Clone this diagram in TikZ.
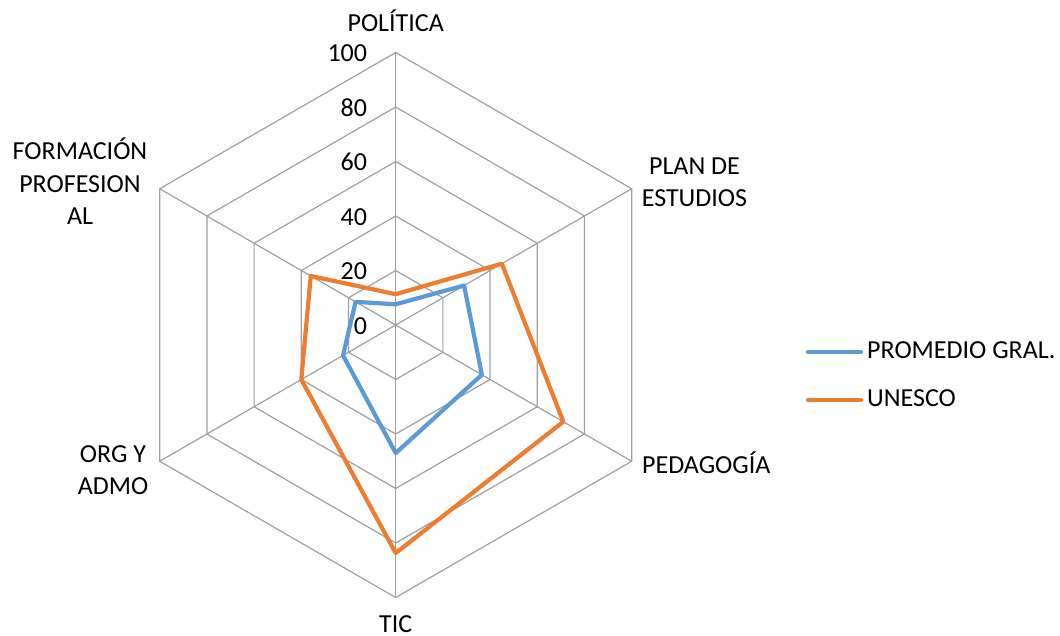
\documentclass[tikz,border=0pt]{standalone}
\usepackage{fontspec}
\setmainfont{Carlito}
\definecolor{gridc}{RGB}{160,160,160}
\definecolor{serblue}{RGB}{91,155,213}
\definecolor{serorange}{RGB}{237,125,49}
\begin{document}
\begin{tikzpicture}[x=1pt,y=1pt,
  font=\fontsize{26}{32.5}\selectfont,
  gridline/.style={draw=gridc, line width=1.2pt},
  series/.style={line width=4.2pt, line join=round},
  lbl/.style={inner sep=0pt, align=center},
  keyline/.style={line width=4.2pt, line cap=round}]
\useasboundingbox (-395.7,-311) rectangle (664.3,325);
\coordinate (o) at (0,0);
% grid rings
\foreach \r in {54.5,109,163.5,218,272.5}
  \draw[gridline] (90:\r pt) -- (30:\r pt) -- (-30:\r pt) -- (-90:\r pt) -- (-150:\r pt) -- (150:\r pt) -- cycle;
% spokes
\coordinate (aPol) at (90:272.5pt);
\coordinate (aPlan) at (30:272.5pt);
\coordinate (aPed) at (-30:272.5pt);
\coordinate (aTic) at (-90:272.5pt);
\coordinate (aOrg) at (-150:272.5pt);
\coordinate (aFor) at (150:272.5pt);
\foreach \a in {aPol,aPlan,aPed,aTic,aOrg,aFor}
  \draw[gridline] (o) -- (\a);
% scale labels
\foreach \v/\n in {0/s0,20/s20,40/s40,60/s60,80/s80,100/s100}
  \node[lbl, anchor=base east] (\n) at (-28.4,{\v*2.725-9.2}) {\v};
% series PROMEDIO GRAL.
\coordinate (b1) at (90:20.7pt);
\coordinate (b2) at (30:79.0pt);
\coordinate (b3) at (-30:99.5pt);
\coordinate (b4) at (-90:128.1pt);
\coordinate (b5) at (-150:60.8pt);
\coordinate (b6) at (150:46.3pt);
\draw[series, serblue] (b1) -- (b2) -- (b3) -- (b4) -- (b5) -- (b6) -- cycle;
% series UNESCO
\coordinate (u1) at (90:30.8pt);
\coordinate (u2) at (30:122.6pt);
\coordinate (u3) at (-30:193.5pt);
\coordinate (u4) at (-90:228.1pt);
\coordinate (u5) at (-150:109pt);
\coordinate (u6) at (150:98.1pt);
\draw[series, serorange] (u1) -- (u2) -- (u3) -- (u4) -- (u5) -- (u6) -- cycle;
% axis labels
\node[lbl, anchor=base] (lPol) at (0,293.3) {POLÍTICA};
\node[lbl, anchor=base] (lPlan) at (298.8,118) {PLAN DE\\ESTUDIOS};
\node[lbl, anchor=base west] (lPed) at (246.3,-148.5) {PEDAGOGÍA};
\node[lbl, anchor=base, text depth=0pt] (lTic) at (0,-307) {TIC};
\node[lbl, anchor=base] (lOrg) at (-282.7,-170) {ORG Y\\ADMO};
\node[lbl, anchor=base] (lFor) at (-315.7,100) {FORMACIÓN\\PROFESION\\AL};
% legend
\coordinate (k1a) at (412.3,-27);
\coordinate (k1b) at (465.3,-27);
\coordinate (k2a) at (412.3,-75);
\coordinate (k2b) at (465.3,-75);
\draw[keyline, serblue] (k1a) -- (k1b);
\draw[keyline, serorange] (k2a) -- (k2b);
\node[lbl, anchor=base west] (leg1) at (471.3,-33.3) {PROMEDIO GRAL.};
\node[lbl, anchor=base west] (leg2) at (471.3,-81.7) {UNESCO};
\end{tikzpicture}
\end{document}
